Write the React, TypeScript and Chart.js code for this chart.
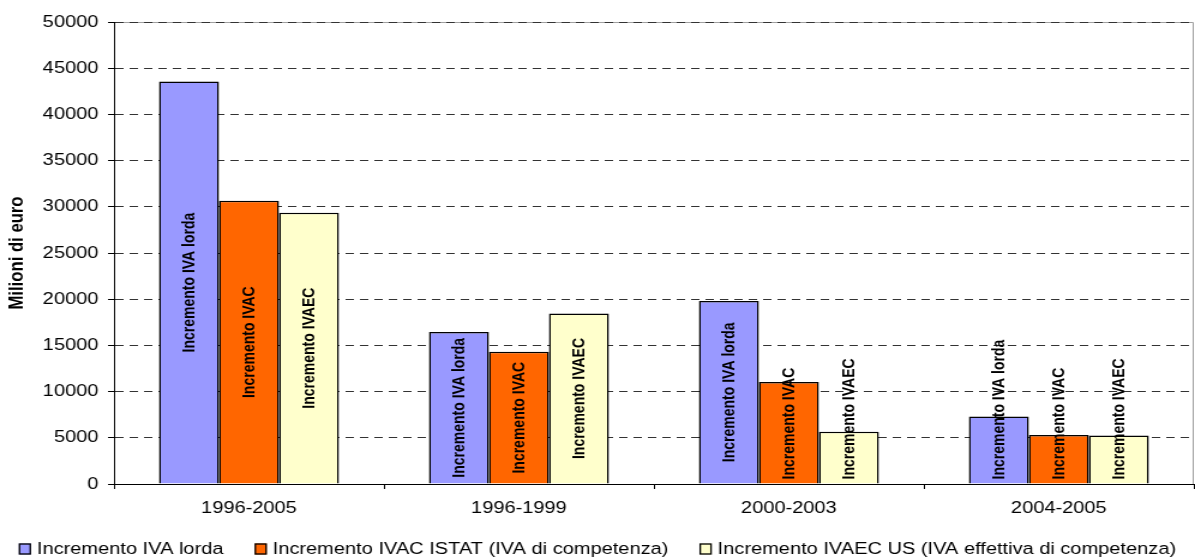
import React, { useEffect, useRef } from "react";
import { Chart, registerables } from "chart.js";

Chart.register(...registerables);

// ---- data ----
const categories = ["1996-2005", "1996-1999", "2000-2003", "2004-2005"];
const ivaLorda = [43550, 16450, 19800, 7300];
const ivac = [30650, 14300, 11050, 5300];
const ivaec = [29350, 18450, 5650, 5250];
const seriesNames = [
  "Incremento IVA lorda",
  "Incremento IVAC ISTAT (IVA di competenza)",
  "Incremento IVAEC US (IVA effettiva di competenza)",
];
const barLabels = ["Incremento IVA lorda", "Incremento IVAC", "Incremento IVAEC"];
const seriesColors = ["#9999FF", "#FF6600", "#FFFFCC"];
const yMin = 0;
const yMax = 50000;
const yStep = 5000;
const yTitle = "Milioni di euro";

const FONT = '"Liberation Sans", Arial, sans-serif';
const W = 996; // internal width, stretched to 1195 via CSS
const H = 558;

const framePlugin = {
  id: "frame",
  beforeDraw(chart: any) {
    const { ctx, chartArea } = chart;
    ctx.save();
    ctx.strokeStyle = "#a0a0a0";
    ctx.lineWidth = 1;
    ctx.beginPath();
    ctx.moveTo(chartArea.left, Math.round(chartArea.top) + 0.5);
    ctx.lineTo(Math.round(chartArea.right) - 0.5, Math.round(chartArea.top) + 0.5);
    ctx.lineTo(Math.round(chartArea.right) - 0.5, chartArea.bottom);
    ctx.stroke();
    ctx.restore();
  },
};

const barLabelPlugin = {
  id: "barLabels",
  afterDatasetsDraw(chart: any) {
    const ctx = chart.ctx;
    ctx.save();
    ctx.font = `bold 14px ${FONT}`;
    ctx.fillStyle = "#000";
    ctx.textAlign = "center";
    ctx.textBaseline = "middle";
    chart.data.datasets.forEach((ds: any, i: number) => {
      const meta = chart.getDatasetMeta(i);
      const label = barLabels[i];
      const L = ctx.measureText(label).width;
      meta.data.forEach((bar: any) => {
        const { x, y, base } = bar.getProps(["x", "y", "base"], true);
        let cy = (y + base) / 2;
        if (cy + L / 2 > base - 4) cy = base - 4 - L / 2;
        ctx.save();
        ctx.translate(x, cy);
        ctx.rotate(-Math.PI / 2);
        ctx.fillText(label, 0, 1);
        ctx.restore();
      });
    });
    ctx.restore();
  },
};

const legendPlugin = {
  id: "customLegend",
  afterDraw(chart: any) {
    const ctx = chart.ctx;
    ctx.save();
    ctx.font = `16.7px ${FONT}`;
    ctx.textBaseline = "middle";
    ctx.textAlign = "left";
    const boxW = 10;
    const boxH = 11;
    const gapText = 5;
    const gapItem = 26;
    const items = chart.data.datasets.map((ds: any) => ({
      label: ds.label,
      color: ds.backgroundColor,
      w: boxW + gapText + ctx.measureText(ds.label).width,
    }));
    const total = items.reduce((s: number, it: any) => s + it.w, 0) + gapItem * (items.length - 1);
    let x = (chart.width - total) / 2;
    const cy = 549;
    items.forEach((it: any) => {
      ctx.fillStyle = it.color;
      ctx.fillRect(x, cy - boxH / 2, boxW, boxH);
      ctx.strokeStyle = "#000";
      ctx.lineWidth = 1.3;
      ctx.strokeRect(x + 0.5, cy - boxH / 2 + 0.5, boxW - 1, boxH - 1);
      ctx.fillStyle = "#000";
      ctx.fillText(it.label, x + boxW + gapText, cy);
      x += it.w + gapItem;
    });
    ctx.restore();
  },
};

export default function App() {
  const ref = useRef<HTMLCanvasElement | null>(null);
  useEffect(() => {
    if (!ref.current) return;
    const datasets = [ivaLorda, ivac, ivaec].map((vals, i) => ({
      label: seriesNames[i],
      data: vals,
      backgroundColor: seriesColors[i],
      borderColor: "#000",
      borderWidth: 1.5,
      categoryPercentage: 0.6667,
      barPercentage: 1,
    }));
    const chart = new Chart(ref.current, {
      type: "bar",
      data: { labels: categories, datasets },
      plugins: [framePlugin, barLabelPlugin, legendPlugin],
      options: {
        responsive: false,
        animation: false,
        devicePixelRatio: 1,
        layout: { padding: { top: 22, right: 1, bottom: 40, left: 0 } },
        plugins: {
          legend: { display: false },
          tooltip: { enabled: false },
        },
        scales: {
          x: {
            afterFit: (s: any) => {
              s.height = 34;
            },
            grid: {
              offset: true,
              drawOnChartArea: false,
              color: "#000",
              tickLength: 5,
            },
            border: { color: "#000", width: 1 },
            ticks: {
              color: "#000",
              font: { family: FONT, size: 16.7 },
              padding: 9,
            },
          },
          y: {
            min: yMin,
            max: yMax,
            afterFit: (s: any) => {
              s.width = 95;
            },
            grid: {
              color: "#333",
              tickColor: "#000",
              tickLength: 5,
              tickBorderDash: [],
            },
            border: { color: "#000", width: 1, dash: [7, 5] },
            ticks: {
              stepSize: yStep,
              color: "#000",
              font: { family: FONT, size: 16.7 },
              padding: 8,
              callback: (v: any) => String(v),
            },
            title: {
              display: true,
              text: yTitle,
              color: "#000",
              font: { family: FONT, size: 16.7, weight: "bold" },
              padding: { top: 4, bottom: 0 },
            },
          },
        },
      } as any,
    });
    return () => chart.destroy();
  }, []);
  return (
    <canvas
      ref={ref}
      width={W}
      height={H}
      style={{ position: "fixed", left: 0, top: 0, width: "1195px", height: "558px" }}
    />
  );
}
